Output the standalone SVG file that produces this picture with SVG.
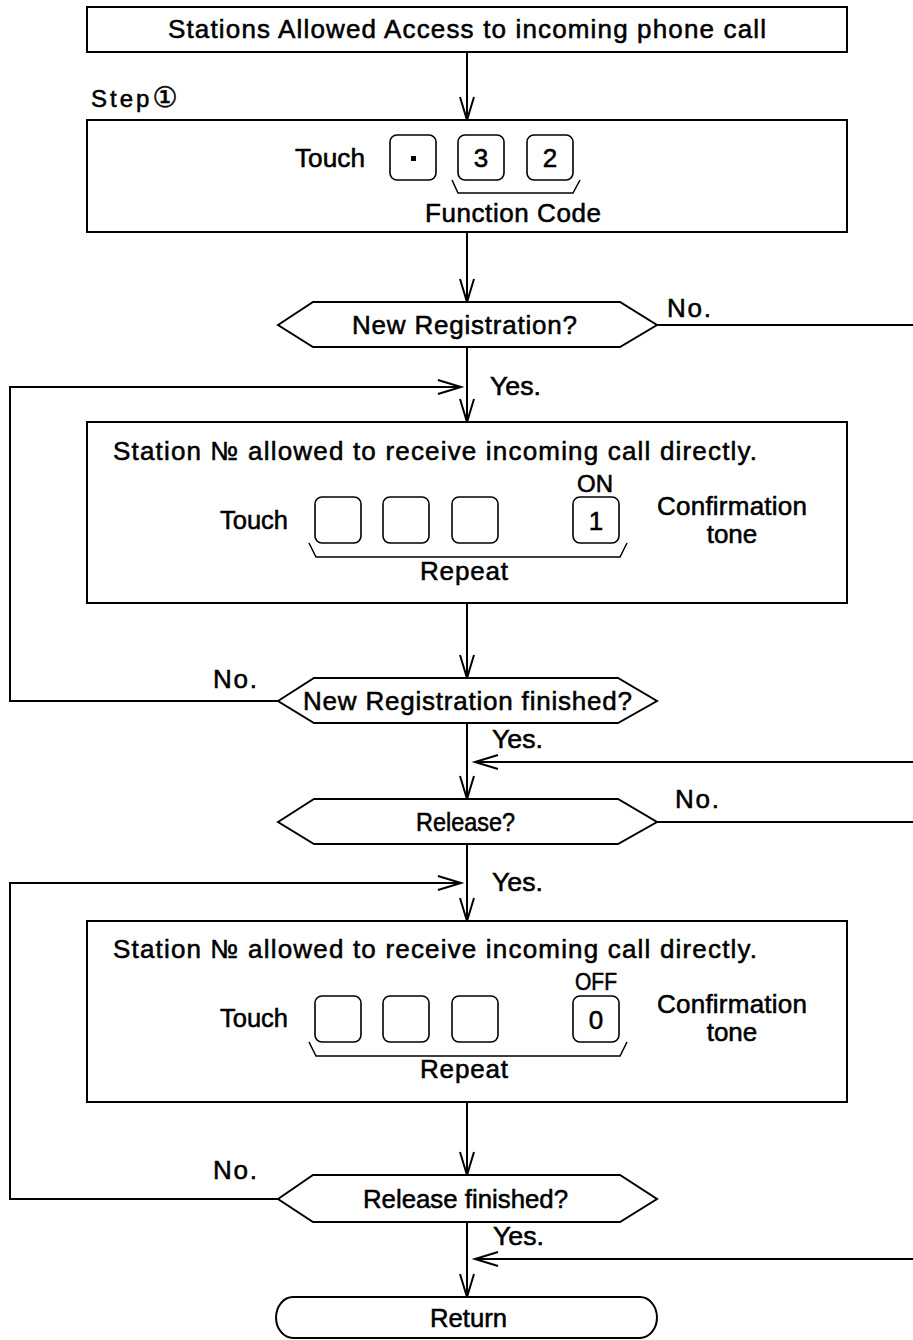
<svg xmlns="http://www.w3.org/2000/svg" width="913" height="1340" viewBox="0 0 913 1340">
<style>
text{font-family:"Liberation Sans",Arial,"DejaVu Sans",sans-serif;font-size:26px;fill:#000;stroke:#000;stroke-width:0.55}
.box{fill:#fff;stroke:#000;stroke-width:2}
.key{fill:#fff;stroke:#000;stroke-width:1.6}
.ln{fill:none;stroke:#000;stroke-width:2}
.br{fill:none;stroke:#000;stroke-width:1.5}
.mid{text-anchor:middle}
.dg{font-size:26px}
.sm{font-size:24px}
</style>
<defs>
<marker id="ah" markerUnits="userSpaceOnUse" markerWidth="30" markerHeight="20" refX="24" refY="8" orient="auto">
<path d="M1,1 L24,8 L1,15" fill="none" stroke="#000" stroke-width="2"/>
</marker>
</defs>
<rect width="913" height="1340" fill="#fff"/>

<g id="connectors">
<line class="ln" x1="467" y1="52" x2="467" y2="120" marker-end="url(#ah)"/>
<line class="ln" x1="467" y1="232" x2="467" y2="302" marker-end="url(#ah)"/>
<line class="ln" x1="657" y1="325" x2="913" y2="325"/>
<line class="ln" x1="467" y1="347" x2="467" y2="422" marker-end="url(#ah)"/>
<polyline class="ln" points="278,701 10,701 10,387 461,387" marker-end="url(#ah)"/>
<line class="ln" x1="467" y1="603" x2="467" y2="678" marker-end="url(#ah)"/>
<line class="ln" x1="467" y1="723" x2="467" y2="799" marker-end="url(#ah)"/>
<line class="ln" x1="913" y1="762" x2="475" y2="762" marker-end="url(#ah)"/>
<line class="ln" x1="657" y1="822" x2="913" y2="822"/>
<line class="ln" x1="467" y1="844" x2="467" y2="921" marker-end="url(#ah)"/>
<polyline class="ln" points="278,1199 10,1199 10,883 461,883" marker-end="url(#ah)"/>
<line class="ln" x1="467" y1="1102" x2="467" y2="1175" marker-end="url(#ah)"/>
<line class="ln" x1="913" y1="1259" x2="475" y2="1259" marker-end="url(#ah)"/>
<line class="ln" x1="467" y1="1222" x2="467" y2="1297" marker-end="url(#ah)"/>
<text x="667" y="317" textLength="44">No.</text>
<text x="490" y="395" textLength="51" lengthAdjust="spacingAndGlyphs">Yes.</text>
<text x="213" y="688" textLength="44">No.</text>
<text x="492" y="748" textLength="51" lengthAdjust="spacingAndGlyphs">Yes.</text>
<text x="675" y="808" textLength="44">No.</text>
<text x="492" y="891" textLength="51" lengthAdjust="spacingAndGlyphs">Yes.</text>
<text x="213" y="1179" textLength="44">No.</text>
<text x="493" y="1245" textLength="51" lengthAdjust="spacingAndGlyphs">Yes.</text>
</g>

<g id="start">
<rect class="box" x="87" y="7" width="760" height="45"/>
<text x="168" y="38" textLength="598">Stations Allowed Access to incoming phone call</text>
</g>

<g id="step1">
<text x="91" y="107" class="sm" letter-spacing="3">Step<tspan font-size="28" letter-spacing="0">①</tspan></text>
<rect class="box" x="87" y="120" width="760" height="112"/>
<text x="295" y="167" textLength="70" lengthAdjust="spacingAndGlyphs">Touch</text>
<rect class="key" x="390" y="135" width="46" height="45" rx="7"/>
<rect x="411" y="156" width="5" height="5" fill="#000"/>
<rect class="key" x="458" y="135" width="46" height="45" rx="7"/>
<text class="mid dg" x="481" y="167">3</text>
<rect class="key" x="527" y="135" width="46" height="45" rx="7"/>
<text class="mid dg" x="550" y="167">2</text>
<path class="br" d="M452,180 L458,193 H573 L580,180"/>
<text x="425" y="222" textLength="176">Function Code</text>
</g>

<g id="newreg">
<polygon class="box" points="278,325 313,302 620,302 657,325 620,347 313,347"/>
<text x="352" y="334" textLength="225">New Registration?</text>
</g>

<g id="regbox">
<rect class="box" x="87" y="422" width="760" height="181"/>
<text x="113" y="460" textLength="644">Station № allowed to receive incoming call directly.</text>
<text class="mid sm" x="595" y="492">ON</text>
<text x="220" y="529" textLength="68" lengthAdjust="spacingAndGlyphs">Touch</text>
<rect class="key" x="315" y="497" width="46" height="46" rx="7"/>
<rect class="key" x="383" y="497" width="46" height="46" rx="7"/>
<rect class="key" x="452" y="497" width="46" height="46" rx="7"/>
<rect class="key" x="573" y="497" width="46" height="46" rx="7"/>
<text class="mid dg" x="596" y="530">1</text>
<path class="br" d="M309,543 L316,557 H620 L627,543"/>
<text x="657" y="515" textLength="150">Confirmation</text>
<text class="mid" x="732" y="543">tone</text>
<text x="420" y="580" textLength="88">Repeat</text>
</g>

<g id="newregfin">
<polygon class="box" points="278,701 314,678 618,678 657,701 618,723 314,723"/>
<text x="303" y="710" textLength="329">New Registration finished?</text>
</g>

<g id="release">
<polygon class="box" points="278,822 314,799 618,799 657,822 618,844 314,844"/>
<text x="416" y="831" textLength="99" lengthAdjust="spacingAndGlyphs">Release?</text>
</g>

<g id="relbox">
<rect class="box" x="87" y="921" width="760" height="181"/>
<text x="113" y="958" textLength="644">Station № allowed to receive incoming call directly.</text>
<text class="mid sm" x="596" y="990" textLength="42" lengthAdjust="spacingAndGlyphs">OFF</text>
<text x="220" y="1027" textLength="68" lengthAdjust="spacingAndGlyphs">Touch</text>
<rect class="key" x="315" y="996" width="46" height="46" rx="7"/>
<rect class="key" x="383" y="996" width="46" height="46" rx="7"/>
<rect class="key" x="452" y="996" width="46" height="46" rx="7"/>
<rect class="key" x="573" y="996" width="46" height="46" rx="7"/>
<text class="mid dg" x="596" y="1029">0</text>
<path class="br" d="M309,1042 L316,1056 H620 L627,1042"/>
<text x="657" y="1013" textLength="150">Confirmation</text>
<text class="mid" x="732" y="1041">tone</text>
<text x="420" y="1078" textLength="88">Repeat</text>
</g>

<g id="relfin">
<polygon class="box" points="278,1199 313,1175 620,1175 657,1199 620,1222 313,1222"/>
<text x="363" y="1208" textLength="205" lengthAdjust="spacingAndGlyphs">Release finished?</text>
</g>

<g id="return">
<path class="box" d="M293,1297 H640 A17,20.5 0 0 1 640,1338 H293 A17,20.5 0 0 1 293,1297 Z"/>
<text x="430" y="1327" textLength="77" lengthAdjust="spacingAndGlyphs">Return</text>
</g>
</svg>
